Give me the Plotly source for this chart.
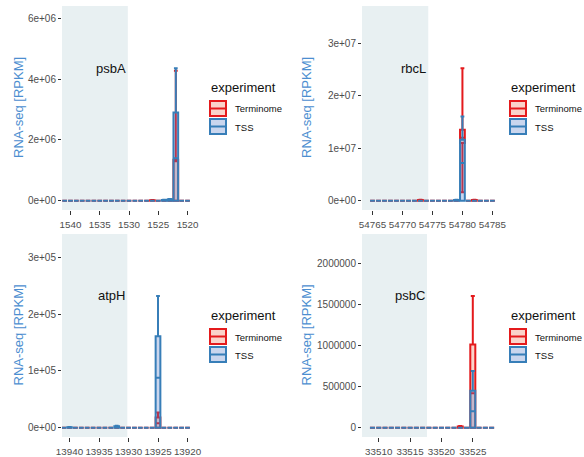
import plotly.graph_objects as go

# ---------------- data ----------------
genes = ["psbA", "rbcL", "atpH", "psbC"]
experiments = ["Terminome", "TSS"]

# psbA (reversed strand)
psbA_pos = [1541, 1540, 1539, 1538, 1537, 1536, 1535, 1534, 1533, 1532, 1531,
            1530, 1529, 1528, 1527, 1526, 1525, 1524, 1523, 1522, 1521, 1520]
psbA_tss_lo  = [0]*19 + [0, 0, 0]
psbA_tss_q1  = [0]*19 + [0, 0, 0]
psbA_tss_med = [0]*17 + [1.5e4, 3.0e4, 1.40e6, 0, 0]
psbA_tss_q3  = [0]*17 + [2.5e4, 5.0e4, 2.90e6, 0, 0]
psbA_tss_hi  = [0]*17 + [3.0e4, 6.0e4, 4.36e6, 0, 0]
psbA_term_lo  = [0]*22
psbA_term_q1  = [0]*22
psbA_term_med = [0]*15 + [1.0e4, 0, 0, 0, 1.30e6, 0, 0]
psbA_term_q3  = [0]*15 + [1.5e4, 0, 0, 0, 1.35e6, 0, 0]
psbA_term_hi  = [0]*15 + [2.0e4, 0, 0, 0, 4.28e6, 0, 0]

# rbcL
rbcL_pos = [54765, 54766, 54767, 54768, 54769, 54770, 54771, 54772, 54773, 54774, 54775,
            54776, 54777, 54778, 54779, 54780, 54781, 54782, 54783, 54784, 54785]
rbcL_tss_lo  = [0]*21
rbcL_tss_q1  = [0]*21
rbcL_tss_med = [0]*14 + [1.0e5, 7.2e6, 0, 0, 0, 0, 0]
rbcL_tss_q3  = [0]*14 + [1.5e5, 1.16e7, 0, 0, 0, 0, 0]
rbcL_tss_hi  = [0]*14 + [2.0e5, 1.60e7, 0, 0, 0, 0, 0]
rbcL_term_lo  = [0]*15 + [1.6e6] + [0]*5
rbcL_term_q1  = [0]*15 + [1.10e7] + [0]*5
rbcL_term_med = [0]*8 + [1.0e5] + [0]*6 + [1.20e7, 0, 1.0e5, 0, 0, 0]
rbcL_term_q3  = [0]*8 + [1.5e5] + [0]*6 + [1.35e7, 0, 1.5e5, 0, 0, 0]
rbcL_term_hi  = [0]*8 + [2.0e5] + [0]*6 + [2.52e7, 0, 2.0e5, 0, 0, 0]

# atpH (reversed strand)
atpH_pos = [13941, 13940, 13939, 13938, 13937, 13936, 13935, 13934, 13933, 13932, 13931,
            13930, 13929, 13928, 13927, 13926, 13925, 13924, 13923, 13922, 13921, 13920]
atpH_tss_lo  = [0]*22
atpH_tss_q1  = [0]*22
atpH_tss_med = [0, 500, 0, 0, 0, 0, 0, 0, 0, 1500, 0, 0, 0, 0, 0, 0, 8.8e4, 0, 0, 0, 0, 0]
atpH_tss_q3  = [0, 1000, 0, 0, 0, 0, 0, 0, 0, 2500, 0, 0, 0, 0, 0, 0, 1.61e5, 0, 0, 0, 0, 0]
atpH_tss_hi  = [0, 1500, 0, 0, 0, 0, 0, 0, 0, 3500, 0, 0, 0, 0, 0, 0, 2.32e5, 0, 0, 0, 0, 0]
atpH_term_lo  = [0]*22
atpH_term_q1  = [0]*22
atpH_term_med = [0]*16 + [0.8e4] + [0]*5
atpH_term_q3  = [0]*16 + [1.8e4] + [0]*5
atpH_term_hi  = [0]*16 + [2.7e4] + [0]*5

# psbC
psbC_pos = [33509, 33510, 33511, 33512, 33513, 33514, 33515, 33516, 33517, 33518,
            33519, 33520, 33521, 33522, 33523, 33524, 33525, 33526, 33527, 33528]
psbC_tss_lo  = [0]*20
psbC_tss_q1  = [0]*20
psbC_tss_med = [0]*16 + [2.0e5, 0, 0, 0]
psbC_tss_q3  = [0]*16 + [4.5e5, 0, 0, 0]
psbC_tss_hi  = [0]*16 + [6.9e5, 0, 0, 0]
psbC_term_lo  = [0]*20
psbC_term_q1  = [0]*20
psbC_term_med = [0]*14 + [0.8e4, 0, 4.2e5, 0, 0, 0]
psbC_term_q3  = [0]*14 + [1.5e4, 0, 1.01e6, 0, 0, 0]
psbC_term_hi  = [0]*14 + [2.0e4, 0, 1.60e6, 0, 0, 0]

# axis ticks
psbA_xticks = [1540, 1535, 1530, 1525, 1520]
rbcL_xticks = [54765, 54770, 54775, 54780, 54785]
atpH_xticks = [13940, 13935, 13930, 13925, 13920]
psbC_xticks = [33510, 33515, 33520, 33525]
psbA_yticks = [0, 2e6, 4e6, 6e6]
psbA_ylabels = ["0e+00", "2e+06", "4e+06", "6e+06"]
rbcL_yticks = [0, 1e7, 2e7, 3e7]
rbcL_ylabels = ["0e+00", "1e+07", "2e+07", "3e+07"]
atpH_yticks = [0, 1e5, 2e5, 3e5]
atpH_ylabels = ["0e+00", "1e+05", "2e+05", "3e+05"]
psbC_yticks = [0, 5e5, 1e6, 1.5e6, 2e6]
psbC_ylabels = ["0", "500000", "1000000", "1500000", "2000000"]

# x windows (first value = left edge) and end of the shaded upstream region
psbA_xrange = [1541.45, 1518.55]
rbcL_xrange = [54763.25, 54785.6]
atpH_xrange = [13941.27, 13918.56]
psbC_xrange = [33507.33, 33528.7]
psbA_shade_end = 1530.2
rbcL_shade_end = 54774.3
atpH_shade_end = 13930.2
psbC_shade_end = 33517.7

# ---------------- styling ----------------
W, H = 584, 457
FONT = "Arial, Liberation Sans, Helvetica, sans-serif"
LINE = {"Terminome": "#E41A1C", "TSS": "#377EB8"}
FILL = {"Terminome": "rgba(240,110,80,0.30)", "TSS": "rgba(80,120,200,0.30)"}
SHADE = "#E8F0F2"
TITLE_BLUE = "#4C8ED0"
TICK_GREY = "#4D4D4D"


def fx(p):
    return p / W


def fy(p):
    return 1 - p / H


panels = [
    dict(gene="psbA", pos=psbA_pos,
         tss=(psbA_tss_lo, psbA_tss_q1, psbA_tss_med, psbA_tss_q3, psbA_tss_hi),
         term=(psbA_term_lo, psbA_term_q1, psbA_term_med, psbA_term_q3, psbA_term_hi),
         xticks=psbA_xticks, yticks=psbA_yticks, ylabels=psbA_ylabels,
         xrange=psbA_xrange, shade_end=psbA_shade_end, px=(62, 196), py=(6, 210), ax=""),
    dict(gene="rbcL", pos=rbcL_pos,
         tss=(rbcL_tss_lo, rbcL_tss_q1, rbcL_tss_med, rbcL_tss_q3, rbcL_tss_hi),
         term=(rbcL_term_lo, rbcL_term_q1, rbcL_term_med, rbcL_term_q3, rbcL_term_hi),
         xticks=rbcL_xticks, yticks=rbcL_yticks, ylabels=rbcL_ylabels,
         xrange=rbcL_xrange, shade_end=rbcL_shade_end, px=(362, 496), py=(6, 210), ax="2"),
    dict(gene="atpH", pos=atpH_pos,
         tss=(atpH_tss_lo, atpH_tss_q1, atpH_tss_med, atpH_tss_q3, atpH_tss_hi),
         term=(atpH_term_lo, atpH_term_q1, atpH_term_med, atpH_term_q3, atpH_term_hi),
         xticks=atpH_xticks, yticks=atpH_yticks, ylabels=atpH_ylabels,
         xrange=atpH_xrange, shade_end=atpH_shade_end, px=(62, 196), py=(234, 437), ax="3"),
    dict(gene="psbC", pos=psbC_pos,
         tss=(psbC_tss_lo, psbC_tss_q1, psbC_tss_med, psbC_tss_q3, psbC_tss_hi),
         term=(psbC_term_lo, psbC_term_q1, psbC_term_med, psbC_term_q3, psbC_term_hi),
         xticks=psbC_xticks, yticks=psbC_yticks, ylabels=psbC_ylabels,
         xrange=psbC_xrange, shade_end=psbC_shade_end, px=(362, 496), py=(234, 437), ax="4"),
]

fig = go.Figure()
shapes = []
annotations = []
layout_axes = {}

for p in panels:
    xa = "x" + p["ax"]
    ya = "y" + p["ax"]
    ymax = 1.4 * max(max(p["tss"][4]), max(p["term"][4]))
    for exp in experiments:
        lo, q1, med, q3, hi = p["term"] if exp == "Terminome" else p["tss"]
        fig.add_trace(go.Box(
            x=p["pos"], lowerfence=lo, q1=q1, median=med, q3=q3, upperfence=hi,
            width=0.8, whiskerwidth=0.8, boxpoints=False,
            fillcolor=FILL[exp], line=dict(color=LINE[exp], width=2),
            name=exp, showlegend=False, hoverinfo="skip",
            xaxis=xa, yaxis=ya))

    key = "" if p["ax"] == "" else p["ax"]
    layout_axes["xaxis" + key] = dict(
        domain=[fx(p["px"][0]), fx(p["px"][1])], range=p["xrange"], anchor=ya,
        tickvals=p["xticks"], ticktext=[str(t) for t in p["xticks"]],
        tickangle=0, automargin=False, ticklabelstandoff=1,
        ticks="outside", ticklen=4, tickwidth=1, tickcolor="#333333",
        showgrid=False, zeroline=False, showline=False,
        tickfont=dict(size=9.8, color=TICK_GREY, family=FONT))
    layout_axes["yaxis" + key] = dict(
        domain=[fy(p["py"][1]), fy(p["py"][0])], range=[-0.05 * ymax, 1.05 * ymax], anchor=xa,
        tickvals=p["yticks"], ticktext=p["ylabels"], automargin=False,
        ticks="outside", ticklen=3, tickwidth=1, tickcolor="#333333",
        showgrid=False, zeroline=False, showline=False,
        tickfont=dict(size=10, color=TICK_GREY, family=FONT))

    # shaded upstream region
    shapes.append(dict(type="rect", xref=xa, yref=ya + " domain",
                       x0=p["xrange"][0], x1=p["shade_end"], y0=0, y1=1,
                       fillcolor=SHADE, line=dict(width=0), layer="below"))
    # gene label
    annotations.append(dict(x=p["shade_end"], y=max(max(p["tss"][4]), max(p["term"][4])),
                            xref=xa, yref=ya, text=p["gene"], showarrow=False,
                            xanchor="right", yanchor="middle",
                            font=dict(size=13, color="#111111", family=FONT)))
    # y-axis title
    tx = 18 if p["px"][0] < 300 else 306
    annotations.append(dict(x=fx(tx), y=fy((p["py"][0] + p["py"][1]) / 2),
                            xref="paper", yref="paper", text="RNA-seq [RPKM]",
                            textangle=-90, showarrow=False,
                            xanchor="center", yanchor="middle",
                            font=dict(size=13, color=TITLE_BLUE, family=FONT)))
    # per-panel legend
    lx = p["px"][1] + 13
    ly = p["py"][0]
    annotations.append(dict(x=fx(lx), y=fy(ly + 81), xref="paper", yref="paper",
                            text="experiment", showarrow=False,
                            xanchor="left", yanchor="middle",
                            font=dict(size=13, color="#111111", family=FONT)))
    for i, exp in enumerate(experiments):
        top = ly + 94 + i * 18
        shapes.append(dict(type="rect", xref="paper", yref="paper",
                           x0=fx(lx + 1), x1=fx(lx + 17), y0=fy(top + 16), y1=fy(top + 1),
                           fillcolor=FILL[exp], line=dict(color=LINE[exp], width=2)))
        shapes.append(dict(type="line", xref="paper", yref="paper",
                           x0=fx(lx + 1), x1=fx(lx + 17), y0=fy(top + 8.5), y1=fy(top + 8.5),
                           line=dict(color=LINE[exp], width=2)))
        annotations.append(dict(x=fx(lx + 24), y=fy(top + 9), xref="paper", yref="paper",
                                text=exp, showarrow=False, xanchor="left", yanchor="middle",
                                font=dict(size=9.5, color="#111111", family=FONT)))

fig.update_layout(
    width=W, height=H, margin=dict(l=0, r=0, t=0, b=0, autoexpand=False),
    paper_bgcolor="white", plot_bgcolor="white",
    boxmode="overlay", showlegend=False,
    shapes=shapes, annotations=annotations,
    font=dict(family=FONT),
    **layout_axes)

fig.write_html("out.html")
